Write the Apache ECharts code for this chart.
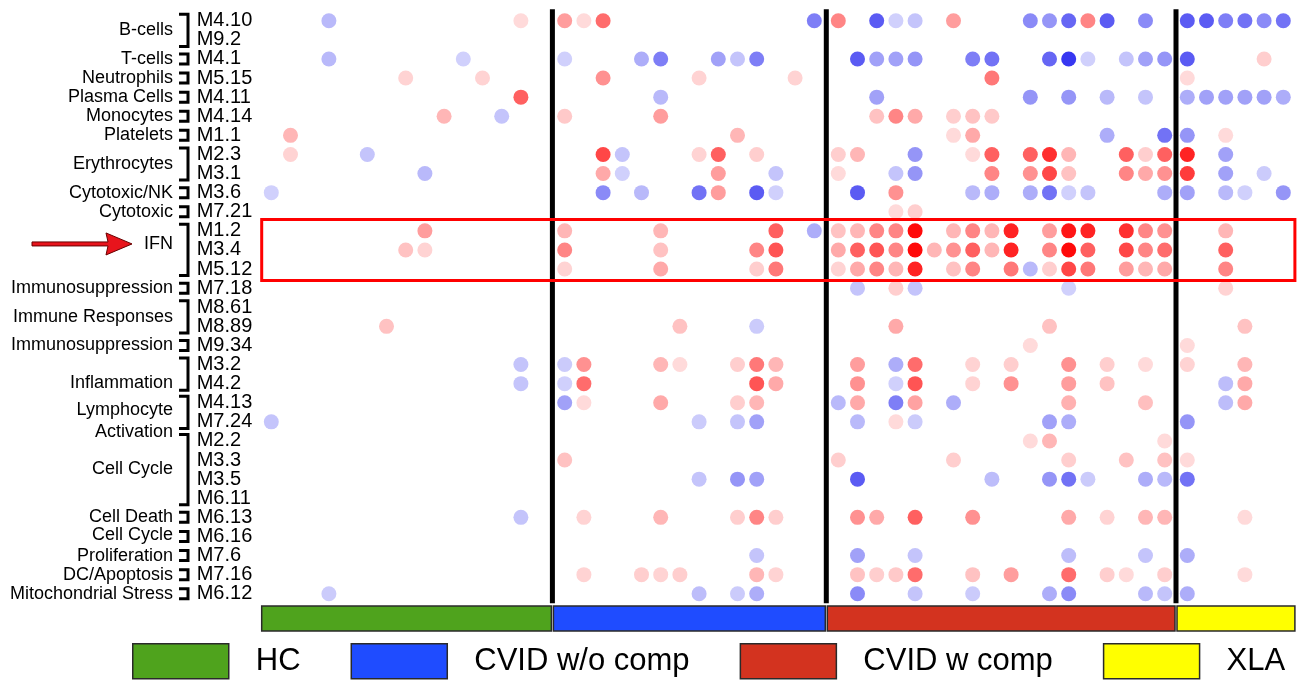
<!DOCTYPE html>
<html><head><meta charset="utf-8">
<script src="https://cdn.jsdelivr.net/npm/echarts@6/dist/echarts.min.js"></script>
<style>html,body{margin:0;padding:0;background:#fff}#c{width:1299px;height:680px}</style>
</head><body><div id="c"></div>
<script>
// ---------------- data ----------------
const modules = ['M4.10','M9.2','M4.1','M5.15','M4.11','M4.14','M1.1','M2.3','M3.1','M3.6','M7.21','M1.2','M3.4','M5.12','M7.18','M8.61','M8.89','M9.34','M3.2','M4.2','M4.13','M7.24','M2.2','M3.3','M3.5','M6.11','M6.13','M6.16','M7.6','M7.16','M6.12'];
// [label, first module index, last module index]
const moduleGroups = [
  ['B-cells',0,1],['T-cells',2,2],['Neutrophils',3,3],['Plasma Cells',4,4],['Monocytes',5,5],
  ['Platelets',6,6],['Erythrocytes',7,8],['Cytotoxic/NK',9,9],['Cytotoxic',10,10],['IFN',11,13],
  ['Immunosuppression',14,14],['Immune Responses',15,16],['Immunosuppression',17,17],
  ['Inflammation',18,19],['Lymphocyte\nActivation',20,21],['Cell Cycle',22,25],['Cell Death',26,26],
  ['Cell Cycle',27,27],['Proliferation',28,28],['DC/Apoptosis',29,29],['Mitochondrial Stress',30,30]
];
const groupNames = ['HC','CVID w/o comp','CVID w comp','XLA'];
const groupSizes = [15,14,18,6];
const groupColors = ['#4fa31d','#1f4cff','#d3331f','#ffff00'];
// [sample index in group, module index, value]
const hcValues = [
  [3,0,-0.3],[13,0,0.15],[3,2,-0.3],[10,2,-0.2],[7,3,0.18],[11,3,0.18],[13,4,0.65],
  [9,5,0.3],[12,5,-0.25],[1,6,0.3],[1,7,0.18],[5,7,-0.25],[8,8,-0.3],[0,9,-0.2],
  [8,11,0.4],[7,12,0.25],[8,12,0.18],[6,16,0.25],[13,18,-0.25],[13,19,-0.25],
  [0,21,-0.25],[13,26,-0.25],[3,30,-0.22]
];
const cvidWoValues = [
  [0,0,0.4],[1,0,0.15],[2,0,0.6],[13,0,-0.55],
  [0,2,-0.2],[4,2,-0.35],[5,2,-0.55],[8,2,-0.4],[9,2,-0.25],[10,2,-0.55],
  [2,3,0.45],[7,3,0.18],[12,3,0.18],
  [5,4,-0.3],
  [0,5,0.22],[5,5,0.4],
  [9,6,0.3],
  [2,7,0.75],[3,7,-0.25],[7,7,0.18],[8,7,0.65],[10,7,0.2],
  [2,8,0.35],[3,8,-0.2],[8,8,0.4],[11,8,-0.25],
  [2,9,-0.5],[4,9,-0.3],[7,9,-0.6],[8,9,0.4],[10,9,-0.7],[11,9,-0.2],
  [0,11,0.3],[5,11,0.3],[11,11,0.65],[13,11,-0.35],
  [0,12,0.5],[5,12,0.25],[10,12,0.5],[11,12,0.7],
  [0,13,0.18],[5,13,0.35],[10,13,0.2],[11,13,0.55],
  [6,16,0.25],[10,16,-0.22],
  [0,18,-0.22],[1,18,0.45],[5,18,0.3],[6,18,0.15],[9,18,0.2],[10,18,0.55],[11,18,0.3],
  [0,19,-0.2],[1,19,0.6],[10,19,0.7],[11,19,0.35],
  [0,20,-0.4],[1,20,0.15],[5,20,0.35],[9,20,0.2],[10,20,0.3],
  [7,21,-0.22],[9,21,-0.25],[10,21,-0.4],
  [0,23,0.25],
  [7,24,-0.25],[9,24,-0.45],[10,24,-0.4],
  [1,26,0.18],[5,26,0.3],[9,26,0.2],[10,26,0.5],[11,26,0.2],
  [10,28,-0.25],
  [1,29,0.18],[4,29,0.2],[5,29,0.18],[6,29,0.2],[10,29,0.3],[11,29,0.18],
  [7,30,-0.28],[9,30,-0.22],[10,30,-0.35]
];
const cvidWValues = [
  [0,0,0.5],[2,0,-0.7],[3,0,-0.2],[4,0,-0.25],[6,0,0.4],[10,0,-0.5],[11,0,-0.45],[12,0,-0.65],[13,0,0.5],[14,0,-0.7],[16,0,-0.5],
  [1,2,-0.7],[2,2,-0.4],[3,2,-0.4],[4,2,-0.45],[7,2,-0.55],[8,2,-0.6],[11,2,-0.65],[12,2,-0.85],[13,2,-0.2],[15,2,-0.25],[16,2,-0.4],[17,2,-0.45],
  [8,3,0.55],
  [2,4,-0.4],[10,4,-0.45],[12,4,-0.45],[14,4,-0.3],[16,4,-0.25],
  [2,5,0.25],[3,5,0.5],[4,5,0.35],[6,5,0.2],[7,5,0.25],[8,5,0.22],
  [6,6,0.15],[7,6,0.35],[14,6,-0.35],[17,6,-0.6],
  [0,7,0.2],[1,7,0.3],[4,7,-0.45],[7,7,0.15],[8,7,0.65],[10,7,0.65],[11,7,0.85],[12,7,0.3],[15,7,0.65],[16,7,0.2],[17,7,0.65],
  [0,8,0.15],[3,8,-0.25],[4,8,-0.45],[8,8,0.5],[10,8,0.45],[11,8,0.75],[12,8,0.25],[15,8,0.5],[16,8,0.35],[17,8,0.45],
  [1,9,-0.7],[3,9,0.45],[7,9,-0.3],[8,9,-0.35],[10,9,-0.35],[11,9,-0.6],[12,9,-0.2],[13,9,-0.25],[17,9,-0.35],
  [3,10,0.15],[4,10,0.2],
  [0,11,0.25],[1,11,0.3],[2,11,0.5],[3,11,0.5],[4,11,1.0],[6,11,0.3],[7,11,0.5],[8,11,0.3],[9,11,0.9],[11,11,0.4],[12,11,0.95],[13,11,0.9],[15,11,0.85],[16,11,0.5],[17,11,0.45],
  [0,12,0.35],[1,12,0.65],[2,12,0.7],[3,12,0.5],[4,12,1.0],[5,12,0.3],[6,12,0.45],[7,12,0.65],[8,12,0.3],[9,12,0.9],[11,12,0.5],[12,12,1.0],[13,12,0.65],[15,12,0.75],[16,12,0.5],[17,12,0.6],
  [0,13,0.18],[1,13,0.35],[2,13,0.5],[3,13,0.3],[4,13,0.9],[6,13,0.25],[7,13,0.5],[9,13,0.55],[10,13,-0.3],[11,13,0.2],[12,13,0.75],[13,13,0.55],[15,13,0.4],[16,13,0.3],[17,13,0.35],
  [1,14,-0.25],[3,14,0.2],[4,14,-0.25],[12,14,-0.2],
  [3,16,0.35],[11,16,0.25],
  [10,17,0.15],
  [1,18,0.4],[3,18,-0.35],[4,18,0.6],[7,18,0.18],[9,18,0.2],[12,18,0.45],[14,18,0.2],[16,18,0.15],
  [1,19,0.45],[3,19,-0.2],[4,19,0.7],[7,19,0.18],[9,19,0.45],[12,19,0.4],[14,19,0.25],
  [0,20,-0.3],[1,20,0.35],[3,20,-0.55],[4,20,0.38],[6,20,-0.35],[12,20,0.32],[16,20,0.26],
  [1,21,-0.3],[3,21,0.15],[4,21,-0.22],[11,21,-0.4],[12,21,-0.35],
  [10,22,0.15],[11,22,0.3],[17,22,0.15],
  [0,23,0.2],[6,23,0.2],[12,23,0.2],[15,23,0.25],[17,23,0.25],
  [1,24,-0.7],[8,24,-0.28],[11,24,-0.45],[12,24,-0.6],[13,24,-0.22],[16,24,-0.35],[17,24,-0.3],
  [1,26,0.45],[2,26,0.35],[4,26,0.65],[7,26,0.45],[12,26,0.35],[14,26,0.18],[16,26,0.3],[17,26,0.3],
  [1,28,-0.4],[4,28,-0.25],[12,28,-0.28],[16,28,-0.25],
  [1,29,0.25],[2,29,0.2],[3,29,0.22],[4,29,0.6],[7,29,0.25],[9,29,0.4],[12,29,0.6],[14,29,0.2],[15,29,0.15],[17,29,0.2],
  [1,30,-0.5],[4,30,-0.25],[7,30,-0.22],[11,30,-0.35],[12,30,-0.5],[16,30,-0.3],[17,30,-0.25]
];
const xlaValues = [
  [0,0,-0.7],[1,0,-0.7],[2,0,-0.55],[3,0,-0.6],[4,0,-0.5],[5,0,-0.6],
  [0,2,-0.7],[4,2,0.2],
  [0,3,0.15],
  [0,4,-0.35],[1,4,-0.4],[2,4,-0.4],[3,4,-0.4],[4,4,-0.4],[5,4,-0.35],
  [0,6,-0.45],[2,6,0.15],
  [0,7,0.9],[2,7,-0.4],
  [0,8,0.8],[2,8,-0.4],[4,8,-0.22],
  [0,9,-0.4],[2,9,-0.3],[3,9,-0.2],[5,9,-0.45],
  [2,11,0.3],[2,12,0.65],[2,13,0.5],[2,14,0.18],
  [3,16,0.25],[0,17,0.15],
  [0,18,0.18],[3,18,0.3],
  [2,19,-0.28],[3,19,0.35],
  [2,20,-0.28],[3,20,0.35],
  [0,21,-0.45],[0,23,0.15],[0,24,-0.6],[3,26,0.15],[0,28,-0.35],[3,29,0.15],[0,30,-0.35]
];
const allValues = [hcValues, cvidWoValues, cvidWValues, xlaValues];

// ---------------- layout ----------------
const FONT = "'Liberation Sans', Arial, Helvetica, sans-serif";
const cellW = 19.2;
const gridTop = 11.2, gridH = 31 * 19.1;
const gridLeft = [261.7, 555.1, 828.7, 1177.7];
const labelShift = {'IFN': -6, 'Inflammation': 9, 'Lymphocyte\nActivation': 9, 'Cell Cycle': -1};

const chart = echarts.init(document.getElementById('c'));

const grids = [], xAxes = [], yAxes = [], series = [];
for (let g = 0; g < 4; g++) {
  grids.push({left: gridLeft[g], top: gridTop, width: groupSizes[g] * cellW, height: gridH});
  xAxes.push({type:'category', gridIndex:g, data: Array.from({length: groupSizes[g]}, (_, i) => String(i)), show:false});
  yAxes.push({
    type:'category', gridIndex:g, data: modules, inverse:true, show: g === 0,
    axisLine:{show:false}, axisTick:{show:false}, splitLine:{show:false},
    axisLabel:{show: g === 0, interval:0, align:'left', margin: 65, fontSize: 20, color:'#000', fontFamily: FONT}
  });
  series.push({
    type:'scatter', name: groupNames[g] + ' modules', xAxisIndex:g, yAxisIndex:g,
    data: allValues[g], symbol:'circle', symbolSize: 15, silent:true, z: 3,
    itemStyle:{opacity: 1}
  });
}
groupNames.forEach((n, g) => {
  series.push({type:'bar', name:n, data:[], xAxisIndex:0, yAxisIndex:0,
    itemStyle:{color: groupColors[g], borderColor:'#2a2a2a', borderWidth:1.5}});
});

chart.setOption({
  animation:false,
  backgroundColor:'#fff',
  grid: grids, xAxis: xAxes, yAxis: yAxes, series: series,
  visualMap: {show:false, type:'continuous', min:-1, max:1, dimension:2, seriesIndex:[0,1,2,3],
    inRange:{color:['#1414ee','#ffffff','#ff0a0a']}},
  legend: {
    data: groupNames, left: 132, top: 643, padding: 0, icon:'rect', itemWidth: 96, itemHeight: 35, itemGap: 50,
    itemStyle:{borderColor:'#2a2a2a', borderWidth:1.5},
    textStyle:{fontSize: 31, color:'#000', fontFamily: FONT, padding:[0,0,0,22]},
    selectedMode:false
  }
});

// ---------------- decorations ----------------
const yPix = i => chart.convertToPixel({yAxisIndex:0}, i);
const graphics = [];
const rights = gridLeft.map((l, g) => l + groupSizes[g] * cellW);
// separators
for (let g = 0; g < 3; g++) {
  const x = (rights[g] + gridLeft[g + 1]) / 2;
  graphics.push({type:'line', shape:{x1:x, y1:gridTop - 2, x2:x, y2:gridTop + gridH}, style:{stroke:'#000', lineWidth:5}, z:10});
}
// group colour bars
for (let g = 0; g < 4; g++) {
  const x0 = g === 0 ? gridLeft[0] : (rights[g - 1] + gridLeft[g]) / 2 + 1;
  const x1 = g === 3 ? rights[3] + 2 : (rights[g] + gridLeft[g + 1]) / 2 - 1;
  graphics.push({type:'rect', shape:{x:x0, y:606, width:x1 - x0, height:25},
    style:{fill:groupColors[g], stroke:'#2a2a2a', lineWidth:1.5}, z:10});
}
// brackets + labels
const half = 19.1 / 2;
moduleGroups.forEach(([label, a, b]) => {
  const yT = yPix(a) - (a === b ? 5 : half - 3);
  const yB = yPix(b) + (a === b ? 5 : half - 3);
  graphics.push({type:'polyline', shape:{points:[[179, yT],[188, yT],[188, yB],[179, yB]]},
    style:{stroke:'#000', lineWidth:3, fill:null}, z:10});
  graphics.push({type:'text', x:173, y:(yPix(a) + yPix(b)) / 2 + (labelShift[label] || 0), z:10,
    style:{text:label, font:'18px ' + FONT, fill:'#000', align:'right', verticalAlign:'middle',
      textAlign:'right', textVerticalAlign:'middle', lineHeight:22}});
});
// IFN highlight box
const ifnTop = yPix(11) - 19.1 * 0.6, ifnBot = yPix(13) + 19.1 * 0.6;
graphics.push({type:'rect', shape:{x:gridLeft[0], y:ifnTop, width:rights[3] + 2 - gridLeft[0], height:ifnBot - ifnTop},
  style:{fill:null, stroke:'#ff0000', lineWidth:3}, z:11});
// arrow
const ay = yPix(12) - 6;
graphics.push({type:'polygon', z:11, shape:{points:[[32, ay - 2],[108, ay - 2],[106, ay - 11],[132, ay],[106, ay + 11],[108, ay + 2],[32, ay + 2]]},
  style:{fill:'#e8141c', stroke:'#6a0000', lineWidth:1}});
chart.setOption({graphic: graphics});
</script>
</body></html>
